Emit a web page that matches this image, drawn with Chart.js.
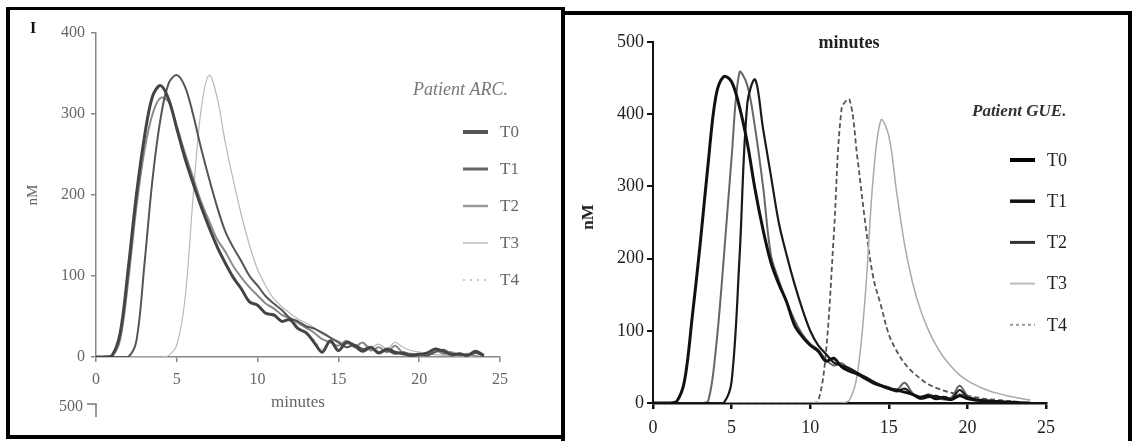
<!DOCTYPE html>
<html>
<head>
<meta charset="utf-8">
<script src="https://cdn.jsdelivr.net/npm/chart.js@4.4.1/dist/chart.umd.min.js"></script>
<style>
  html, body { margin: 0; padding: 0; background: #fff; }
  body { width: 1132px; height: 441px; position: relative; overflow: hidden; }
  canvas { position: absolute; }
  .bar { position: absolute; background: #000; }
</style>
</head>
<body>
<div class="bar" style="left:6px;top:7px;width:557px;height:3px"></div>
<div class="bar" style="left:6px;top:7px;width:4px;height:432px"></div>
<div class="bar" style="left:6px;top:435px;width:557px;height:4px"></div>
<div class="bar" style="left:561px;top:7px;width:4px;height:434px"></div>
<div class="bar" style="left:561px;top:11px;width:571px;height:4px"></div>
<div class="bar" style="left:1128px;top:11px;width:4px;height:430px"></div>

<canvas id="arc" width="551" height="425" style="left:10px;top:10px"></canvas>
<canvas id="gue" width="563" height="421" style="left:565px;top:15px"></canvas>

<script>
// time axis (minutes), shared by both panels
var minutes = [0,0.5,1,1.5,2,2.5,3,3.5,4,4.5,5,5.5,6,6.5,7,7.5,8,8.5,9,9.5,10,10.5,11,11.5,12,
               12.5,13,13.5,14,14.5,15,15.5,16,16.5,17,17.5,18,18.5,19,19.5,20,20.5,21,21.5,22,22.5,23,23.5,24];

var seriesNames = ['T0', 'T1', 'T2', 'T3', 'T4'];

// Patient ARC. (nM)
var arcT0 = [0,0,2,30,110,200,272,322,335,318,282,246,215,186,160,136,116,98,84,68,64,54,52,44,46,35,30,18,6,20,8,18,14,7,12,5,10,6,4,2,3,5,10,7,3,4,2,7,2];
var arcT1 = [0,0,0,0,0,20,115,220,295,338,348,334,300,258,220,185,155,135,118,100,88,75,66,58,48,44,38,35,30,24,18,12,15,10,12,6,8,4,6,3,4,2,6,9,4,3,2,5,1];
var arcT2 = [0,0,1,22,95,185,255,300,320,315,285,252,222,192,168,145,130,112,98,86,76,66,60,52,48,42,36,30,22,18,14,20,12,18,8,12,6,14,5,4,3,2,8,4,6,2,4,1,0];
var arcT3 = [0,0,0,0,0,0,0,0,0,2,15,70,195,305,348,320,265,218,175,138,108,88,72,62,54,47,42,36,28,24,20,16,14,18,12,16,10,18,12,8,6,4,3,2,2,1,1,0,0];
var arcT4 = [0,0,2,34,116,206,274,322,333,315,279,243,213,184,158,134,116,99,84,70,63,56,50,46,44,37,30,21,10,18,9,16,13,9,11,6,9,5,4,3,3,6,9,6,3,4,2,6,2];

// Patient GUE. (nM)
var gueT0 = [0,0,0,2,30,120,220,330,425,452,445,410,360,295,240,195,165,140,108,92,80,72,58,62,50,44,40,34,28,24,20,18,15,12,8,10,6,8,5,10,6,4,3,2,2,1,1,0,0];
var gueT1 = [0,0,0,0,0,0,0,0,0,0,30,200,415,448,380,315,250,205,165,130,100,80,68,56,52,48,42,36,30,24,20,16,20,12,6,8,10,6,5,18,8,5,3,3,2,1,1,0,0];
var gueT2 = [0,0,0,0,0,0,0,2,75,200,340,458,440,380,300,205,170,140,115,95,82,74,60,52,55,46,40,36,30,25,22,18,28,14,6,12,8,5,8,24,10,6,4,3,2,2,1,0,0];
var gueT3 = [0,0,0,0,0,0,0,0,0,0,0,0,0,0,0,0,0,0,0,0,0,0,0,0,0,4,40,148,310,392,370,292,220,168,130,102,80,63,50,39,31,25,20,16,13,10,8,6,4];
var gueT4 = [0,0,0,0,0,0,0,0,0,0,0,0,0,0,0,0,0,0,0,0,0,2,70,232,408,420,340,250,175,135,95,72,55,43,34,26,21,17,14,12,10,8,6,5,4,3,2,1,0];

// tick labels
var xTicks = [0,5,10,15,20,25];
var arcTicksY = [0,100,200,300,400];
var gueTicksY = [0,100,200,300,400,500];

var SERIF = "'Liberation Serif', 'DejaVu Serif', serif";

function toPoints(ys) {
    return minutes.map(function (m, i) { return { x: m, y: ys[i] }; });
}

// draws the free text of each panel and its little legend block
var panelText = {
    id: 'panelText',
    afterDraw: function (chart, args, opts) {
        var c = chart.ctx;
        c.save();
        c.textBaseline = 'middle';
        opts.labels.forEach(function (t) {
            c.font = t.font;
            c.fillStyle = t.color;
            c.textAlign = t.align || 'left';
            if (t.rotate) {
                c.save();
                c.translate(t.x, t.y);
                c.rotate(-Math.PI / 2);
                c.fillText(t.text, 0, 0);
                c.restore();
            } else {
                c.fillText(t.text, t.x, t.y);
            }
        });
        (opts.strokes || []).forEach(function (s) {
            c.beginPath();
            c.strokeStyle = s.color;
            c.lineWidth = s.width;
            c.moveTo(s.pts[0][0], s.pts[0][1]);
            for (var i = 1; i < s.pts.length; i++) c.lineTo(s.pts[i][0], s.pts[i][1]);
            c.stroke();
        });
        var lg = opts.legend;
        c.font = lg.font;
        c.textAlign = 'left';
        chart.data.datasets.forEach(function (ds, i) {
            var y = lg.y0 + i * lg.gap;
            c.beginPath();
            c.setLineDash(lg.dash[i]);
            c.strokeStyle = lg.colors[i];
            c.lineWidth = lg.widths[i];
            c.moveTo(lg.x0, y);
            c.lineTo(lg.x1, y);
            c.stroke();
            c.setLineDash([]);
            c.fillStyle = lg.textColor;
            c.fillText(ds.label, lg.xt, y + 1);
        });
        c.restore();
    }
};

function axis(opts) {
    return {
        type: 'linear',
        min: opts.min,
        max: opts.max,
        afterBuildTicks: function (s) { s.ticks = opts.ticks.map(function (v) { return { value: v }; }); },
        afterFit: opts.fit,
        ticks: { color: opts.color, padding: opts.pad, font: { family: SERIF, size: opts.size } },
        grid: { drawOnChartArea: false, drawTicks: true, tickLength: opts.tick, color: opts.line, lineWidth: opts.lw },
        border: { color: opts.line, width: opts.lw }
    };
}

// ---- Patient ARC. ----
var arcStyle = [
    { c: '#444', w: 3, d: [] },
    { c: '#555', w: 2, d: [] },
    { c: '#8a8a8a', w: 2, d: [] },
    { c: '#b8b8b8', w: 1.2, d: [] },
    { c: '#bbb', w: 1.2, d: [2, 4] }
];
var arcData = [arcT0, arcT1, arcT2, arcT3, arcT4];

new Chart(document.getElementById('arc'), {
    type: 'line',
    data: {
        datasets: arcData.map(function (ys, i) {
            return { label: seriesNames[i], data: toPoints(ys), borderColor: arcStyle[i].c,
                     borderWidth: arcStyle[i].w, borderDash: arcStyle[i].d };
        })
    },
    options: {
        responsive: false,
        animation: false,
        layout: { padding: { top: 23, right: 61, bottom: 48, left: 0 } },
        elements: { point: { radius: 0 }, line: { tension: 0.35, borderJoinStyle: 'round' } },
        plugins: {
            legend: { display: false },
            tooltip: { enabled: false },
            panelText: {
                labels: [
                    { text: 'I', x: 23, y: 19, font: 'bold 16px ' + SERIF, color: '#111', align: 'center' },
                    { text: 'nM', x: 23, y: 185, font: '15px ' + SERIF, color: '#666', align: 'center', rotate: true },
                    { text: 'minutes', x: 288, y: 393, font: '17px ' + SERIF, color: '#666', align: 'center' },
                    { text: '500', x: 73, y: 397, font: '16px ' + SERIF, color: '#666', align: 'right' },
                    { text: 'Patient ARC.', x: 403, y: 80, font: 'italic 18px ' + SERIF, color: '#777' }
                ],
                strokes: [{ color: '#777', width: 1.5, pts: [[77, 394], [86, 394], [86, 407]] }],
                legend: {
                    x0: 453, x1: 478, xt: 490, y0: 122, gap: 37, font: '17px ' + SERIF, textColor: '#666',
                    colors: ['#555', '#666', '#999', '#ccc', '#bbb'],
                    widths: [4, 3, 2.5, 2, 1.5],
                    dash: [[], [], [], [], [2, 5]]
                }
            }
        },
        scales: {
            x: axis({ min: 0, max: 25, ticks: xTicks, color: '#666', size: 16, pad: 8, tick: 5, line: '#888', lw: 1.5,
                      fit: function (s) { s.height = 30; } }),
            y: axis({ min: 0, max: 400, ticks: arcTicksY, color: '#666', size: 16, pad: 6, tick: 5, line: '#888', lw: 1.5,
                      fit: function (s) { s.width = 86; } })
        }
    },
    plugins: [panelText]
});

// ---- Patient GUE. ----
var gueStyle = [
    { c: '#111', w: 3, d: [] },
    { c: '#1a1a1a', w: 2.2, d: [] },
    { c: '#666', w: 2, d: [] },
    { c: '#aaa', w: 1.5, d: [] },
    { c: '#555', w: 1.8, d: [5, 3] }
];
var gueData = [gueT0, gueT1, gueT2, gueT3, gueT4];

new Chart(document.getElementById('gue'), {
    type: 'line',
    data: {
        datasets: gueData.map(function (ys, i) {
            return { label: seriesNames[i], data: toPoints(ys), borderColor: gueStyle[i].c,
                     borderWidth: gueStyle[i].w, borderDash: gueStyle[i].d };
        })
    },
    options: {
        responsive: false,
        animation: false,
        layout: { padding: { top: 27, right: 82, bottom: 3, left: 0 } },
        elements: { point: { radius: 0 }, line: { tension: 0.35, borderJoinStyle: 'round' } },
        plugins: {
            legend: { display: false },
            tooltip: { enabled: false },
            panelText: {
                labels: [
                    { text: 'minutes', x: 284, y: 28, font: 'bold 18px ' + SERIF, color: '#222', align: 'center' },
                    { text: 'nM', x: 24, y: 202, font: 'bold 17px ' + SERIF, color: '#222', align: 'center', rotate: true },
                    { text: 'Patient GUE.', x: 407, y: 97, font: 'italic bold 17px ' + SERIF, color: '#333' }
                ],
                legend: {
                    x0: 445, x1: 470, xt: 482, y0: 145, gap: 41.2, font: '18px ' + SERIF, textColor: '#222',
                    colors: ['#000', '#111', '#333', '#bbb', '#999'],
                    widths: [4, 3.5, 3, 2, 2],
                    dash: [[], [], [], [], [3, 3]]
                }
            }
        },
        scales: {
            x: axis({ min: 0, max: 25, ticks: xTicks, color: '#222', size: 18, pad: 8, tick: 6, line: '#111', lw: 2.5,
                      fit: function (s) { s.height = 30; } }),
            y: axis({ min: 0, max: 500, ticks: gueTicksY, color: '#222', size: 18, pad: 3, tick: 6, line: '#111', lw: 2,
                      fit: function (s) { s.width = 88; } })
        }
    },
    plugins: [panelText]
});
</script>
</body>
</html>
